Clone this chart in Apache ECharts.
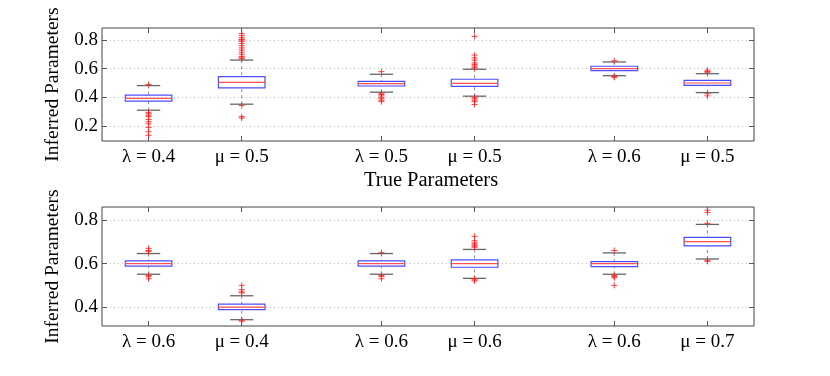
<!DOCTYPE html>
<html>
<head>
<meta charset="utf-8">
<script src="https://cdn.jsdelivr.net/npm/echarts@6/dist/echarts.min.js"></script>
<style>
  html, body { margin: 0; padding: 0; background: #fff; }
  #chart { width: 830px; height: 376px; }
</style>
</head>
<body>
<div id="chart"></div>
<script>
// x positions of the boxes (pairs, with a gap between pairs)
var positions = [1, 2, 3.5, 4.5, 6, 7];
var topLabels = ['λ = 0.4', 'μ = 0.5', 'λ = 0.5', 'μ = 0.5', 'λ = 0.6', 'μ = 0.5'];
var bottomLabels = ['λ = 0.6', 'μ = 0.4', 'λ = 0.6', 'μ = 0.6', 'λ = 0.6', 'μ = 0.7'];
var yTicksTop = [0.2, 0.4, 0.6, 0.8];
var yTicksBottom = [0.4, 0.6, 0.8];

// [low whisker, q1, median, q3, high whisker]
var topBoxes = [
    [0.310, 0.373, 0.392, 0.415, 0.482],
    [0.352, 0.466, 0.505, 0.544, 0.660],
    [0.436, 0.479, 0.496, 0.512, 0.561],
    [0.408, 0.477, 0.498, 0.526, 0.596],
    [0.551, 0.586, 0.600, 0.617, 0.647],
    [0.433, 0.484, 0.500, 0.519, 0.565]
];
var topOutliers = [
    [0.49, 0.295, 0.285, 0.275, 0.265, 0.245, 0.23, 0.215, 0.19, 0.16, 0.135],
    [0.845, 0.83, 0.815, 0.805, 0.80, 0.79, 0.775, 0.76, 0.745, 0.73, 0.715, 0.70, 0.685, 0.675, 0.67, 0.342, 0.265, 0.255],
    [0.579, 0.428, 0.42, 0.41, 0.40, 0.39, 0.38, 0.37],
    [0.825, 0.695, 0.675, 0.66, 0.64, 0.63, 0.62, 0.61, 0.605, 0.40, 0.39, 0.38, 0.37, 0.35],
    [0.655, 0.545, 0.54],
    [0.59, 0.58, 0.575, 0.425, 0.41]
];

var bottomBoxes = [
    [0.551, 0.588, 0.600, 0.612, 0.646],
    [0.342, 0.388, 0.400, 0.414, 0.452],
    [0.551, 0.588, 0.600, 0.612, 0.646],
    [0.532, 0.583, 0.600, 0.617, 0.665],
    [0.551, 0.586, 0.600, 0.609, 0.649],
    [0.621, 0.681, 0.701, 0.720, 0.780]
];
var bottomOutliers = [
    [0.67, 0.66, 0.655, 0.545, 0.54, 0.53],
    [0.50, 0.48, 0.47, 0.465, 0.34, 0.335],
    [0.65, 0.545, 0.54, 0.53],
    [0.725, 0.705, 0.695, 0.69, 0.685, 0.68, 0.675, 0.53, 0.525, 0.52],
    [0.66, 0.545, 0.54, 0.535, 0.50],
    [0.845, 0.835, 0.785, 0.615, 0.61]
];

var FONT = 'Liberation Serif';

function boxRows(boxes) {
    return boxes.map(function (b, i) { return [positions[i]].concat(b); });
}
function outlierRows(outs) {
    var rows = [];
    outs.forEach(function (vals, i) {
        vals.forEach(function (v) { rows.push([positions[i], v]); });
    });
    return rows;
}

function renderBox(params, api) {
    var x = api.value(0);
    var low = api.value(1), q1 = api.value(2), med = api.value(3), q3 = api.value(4), high = api.value(5);
    var hw = 0.25, cw = 0.125;
    var tl = api.coord([x - hw, q3]);
    var br = api.coord([x + hw, q1]);
    var mL = api.coord([x - hw, med]);
    var mR = api.coord([x + hw, med]);
    var cHi = api.coord([x, high]);
    var cLo = api.coord([x, low]);
    var capL = api.coord([x - cw, 0])[0];
    var capR = api.coord([x + cw, 0])[0];
    var dash = { stroke: '#888', lineWidth: 1, lineDash: [3, 3] };
    var cap = { stroke: '#666', lineWidth: 1.3 };
    return {
        type: 'group',
        children: [
            { type: 'line', shape: { x1: cHi[0], y1: cHi[1], x2: cHi[0], y2: tl[1] }, style: dash },
            { type: 'line', shape: { x1: cLo[0], y1: cLo[1], x2: cLo[0], y2: br[1] }, style: dash },
            { type: 'line', shape: { x1: capL, y1: cHi[1], x2: capR, y2: cHi[1] }, style: cap },
            { type: 'line', shape: { x1: capL, y1: cLo[1], x2: capR, y2: cLo[1] }, style: cap },
            { type: 'rect', shape: { x: tl[0], y: tl[1], width: br[0] - tl[0], height: br[1] - tl[1] },
              style: { fill: 'none', stroke: '#4d4dff', lineWidth: 1.2 } },
            { type: 'line', shape: { x1: mL[0], y1: mL[1], x2: mR[0], y2: mR[1] },
              style: { stroke: '#ff5050', lineWidth: 1.2 } }
        ]
    };
}

function makeX(gridIndex, labels, top) {
    return {
        type: 'value', gridIndex: gridIndex, min: 0.5, max: 7.5,
        position: top ? 'top' : 'bottom',
        axisLine: { show: false },
        axisTick: { show: true, inside: true, length: 5, customValues: positions,
                    lineStyle: { color: '#555' } },
        axisLabel: { show: !top, customValues: positions, margin: 7,
                     fontFamily: FONT, fontSize: 19, color: '#000',
                     formatter: function (v) { return labels[positions.indexOf(v)] || ''; } },
        splitLine: { show: false }
    };
}
function makeY(gridIndex, min, max, ticks, right) {
    return {
        type: 'value', gridIndex: gridIndex, min: min, max: max,
        position: right ? 'right' : 'left',
        name: right ? '' : 'Inferred Parameters',
        nameLocation: 'middle', nameGap: 39, nameRotate: 90,
        nameTextStyle: { fontFamily: FONT, fontSize: 19.5, color: '#000' },
        axisLine: { show: false },
        axisTick: { show: true, inside: true, length: 5, customValues: ticks,
                    lineStyle: { color: '#555' } },
        axisLabel: { show: !right, customValues: ticks, margin: 4,
                     fontFamily: FONT, fontSize: 19, color: '#000',
                     formatter: function (v) { return v.toFixed(1); } },
        splitLine: { show: !right, lineStyle: { color: '#bbb', type: [1, 3] } }
    };
}

var plusSymbol = 'path://M5,0L5,10M0,5L10,5';
function outlierSeries(rows, xi, yi) {
    return {
        type: 'scatter', xAxisIndex: xi, yAxisIndex: yi, data: rows,
        symbol: plusSymbol, symbolSize: 6, silent: true,
        itemStyle: { color: 'none', borderColor: '#ff2020', borderWidth: 1, opacity: 0.85 }
    };
}

var chart = echarts.init(document.getElementById('chart'));
chart.setOption({
    animation: false,
    backgroundColor: '#fff',
    grid: [
        { left: 102, right: 76, top: 28, height: 113, show: true, borderColor: '#444', borderWidth: 1 },
        { left: 102, right: 76, top: 207, height: 119, show: true, borderColor: '#444', borderWidth: 1 }
    ],
    xAxis: [makeX(0, topLabels, false), makeX(0, topLabels, true),
            makeX(1, bottomLabels, false), makeX(1, bottomLabels, true)],
    yAxis: [makeY(0, 0.095, 0.884, yTicksTop, false), makeY(0, 0.095, 0.884, yTicksTop, true),
            makeY(1, 0.313, 0.86, yTicksBottom, false), makeY(1, 0.313, 0.86, yTicksBottom, true)],
    graphic: [{
        type: 'text', left: 364, top: 170,
        style: { text: 'True Parameters', fontFamily: FONT, fontSize: 20.5, fill: '#000' }
    }],
    series: [
        { type: 'custom', xAxisIndex: 0, yAxisIndex: 0, data: boxRows(topBoxes), renderItem: renderBox,
          encode: { x: 0, y: [1, 2, 3, 4, 5] } },
        outlierSeries(outlierRows(topOutliers), 0, 0),
        { type: 'custom', xAxisIndex: 2, yAxisIndex: 2, data: boxRows(bottomBoxes), renderItem: renderBox,
          encode: { x: 0, y: [1, 2, 3, 4, 5] } },
        outlierSeries(outlierRows(bottomOutliers), 2, 2)
    ]
});
</script>
</body>
</html>
